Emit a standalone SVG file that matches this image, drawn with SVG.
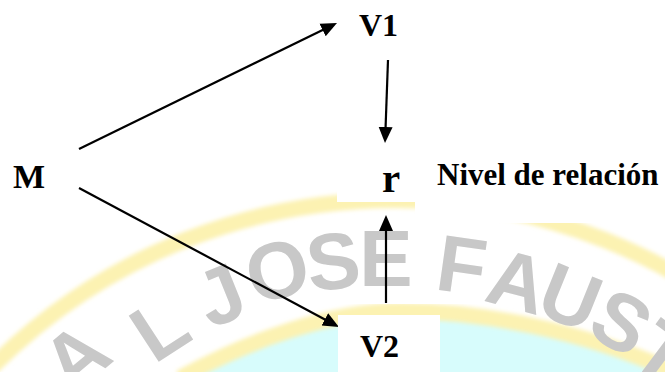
<svg xmlns="http://www.w3.org/2000/svg" width="665" height="372" viewBox="0 0 665 372">
  <defs>
    <style>
      .lbl { font-family: "Liberation Serif", "Times New Roman", serif; font-weight: bold; fill: #000; }
      .conn { stroke: #000; stroke-width: 2.2; fill: none; marker-end: url(#arrow); }
      .band { fill: none; stroke: #fcf2b2; stroke-width: 16; filter: url(#soft); }
      .seal { font-family: "Liberation Sans", Arial, sans-serif; font-weight: bold; font-size: 80px; fill: #c8c8c8; text-anchor: middle; }
      .box { fill: #fff; }
    </style>
    <filter id="soft" x="-10%" y="-10%" width="120%" height="120%">
      <feGaussianBlur stdDeviation="2.2"/>
    </filter>
    <marker id="arrow" markerUnits="userSpaceOnUse" viewBox="0 -8 16 16" markerWidth="16" markerHeight="16" refX="8" refY="0" orient="auto">
      <path d="M0,-7 L16,0 L0,7 Z" fill="#000"/>
    </marker>
  </defs>

  <rect width="665" height="372" fill="#fff"/>

  <!-- background seal -->
  <g id="seal">
    <path d="M180,378 C250,340 330,311 400,311 C480,311 580,330 670,370 L670,380 L180,380 Z" fill="#d7fcfc"/>
    <circle class="band" cx="395" cy="770" r="570"/>
    <path class="band" d="M180,378 C250,340 330,311 400,311 C480,311 580,330 670,370"/>
    <g class="seal">
      <text transform="translate(75,356) rotate(-40)" y="29">A</text>
      <text transform="translate(159,327) rotate(-33)" y="29">L</text>
      <text transform="translate(220,294) rotate(-22)" y="29">J</text>
      <text transform="translate(277,269) rotate(-14)" y="29">O</text>
      <text transform="translate(333,260) rotate(-7)" y="29">S</text>
      <text transform="translate(386,257) rotate(0)" y="29">E</text>
      <text transform="translate(462,264) rotate(8)" y="29">F</text>
      <text transform="translate(518,280) rotate(15)" y="29">A</text>
      <text transform="translate(571,296) rotate(22)" y="29">U</text>
      <text transform="translate(622,321) rotate(30)" y="29">S</text>
      <text transform="translate(664,352) rotate(37)" y="29">T</text>
    </g>
  </g>

  <!-- white text boxes -->
  <rect class="box" x="337" y="140" width="78" height="62"/>
  <rect class="box" x="415" y="140" width="250" height="83"/>

  <g id="connectors">
    <line class="conn" x1="79" y1="149" x2="329.8" y2="26.5"/>
    <line class="conn" x1="388" y1="60" x2="385.3" y2="135"/>
    <line class="conn" x1="79" y1="188" x2="331.9" y2="323.2"/>
    <line class="conn" x1="386" y1="303" x2="386" y2="223"/>
  </g>

  <g id="node-M">
    <text class="lbl" x="13" y="188" font-size="34">M</text>
  </g>
  <g id="node-V1">
    <text class="lbl" x="359" y="36" font-size="32">V1</text>
  </g>
  <g id="node-r">
    <text class="lbl" x="382" y="192" font-size="41">r</text>
  </g>
  <g id="label-nivel">
    <text class="lbl" x="437" y="185" font-size="31">Nivel de relación</text>
  </g>
  <g id="node-V2">
    <rect class="box" x="338" y="315" width="102" height="57"/>
    <text class="lbl" x="360" y="357" font-size="32">V2</text>
  </g>
</svg>
